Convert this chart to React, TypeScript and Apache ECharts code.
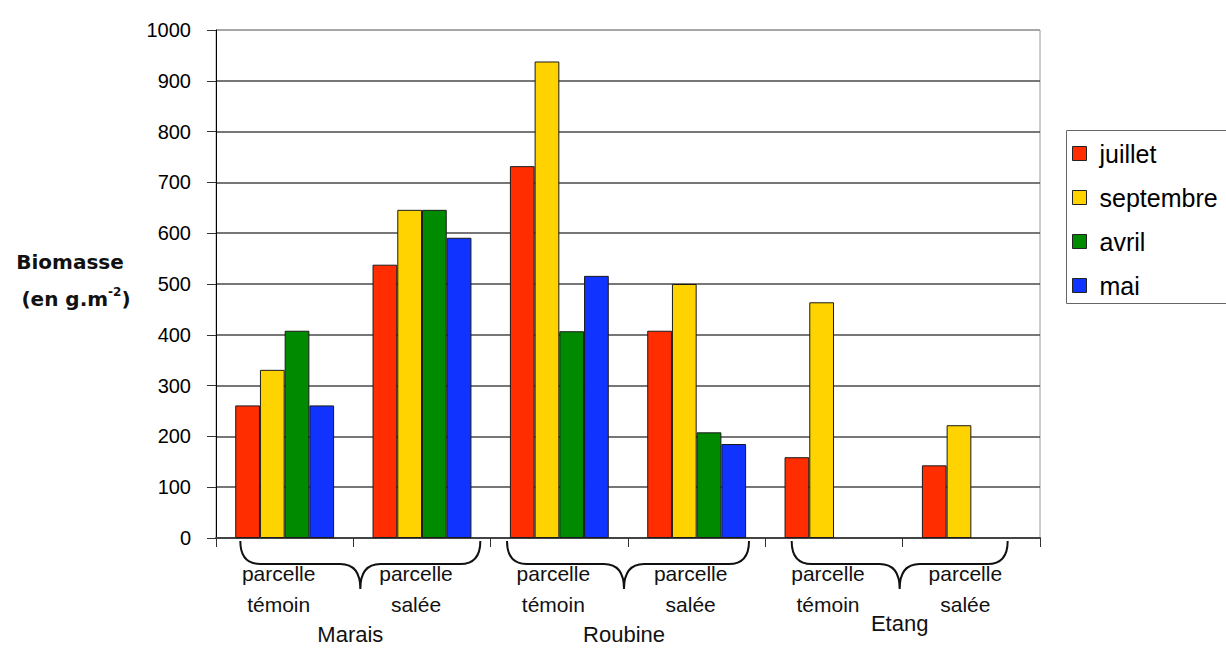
import React, { useEffect, useRef } from 'react';
import * as echarts from 'echarts';

const categories = [
  'parcelle\ntémoin',
  'parcelle\nsalée',
  'parcelle\ntémoin',
  'parcelle\nsalée',
  'parcelle\ntémoin',
  'parcelle\nsalée',
];
const groups = ['Marais', 'Roubine', 'Etang'];
const seriesNames = ['juillet', 'septembre', 'avril', 'mai'];
const juillet = [261, 538, 732, 408, 159, 143];
const septembre = [331, 646, 938, 500, 464, 222];
const avril = [408, 646, 407, 208, null, null];
const mai = [261, 591, 516, 185, null, null];
const yMin = 0;
const yMax = 1000;
const yInterval = 100;

const colors = ['#FF2D00', '#FFD300', '#008A00', '#1133FF'];
const FONT = '"Liberation Sans", Arial, sans-serif';

export default function App() {
  const ref = useRef<HTMLDivElement>(null);

  useEffect(() => {
    if (!ref.current) return;
    const chart = echarts.init(ref.current, undefined, { renderer: 'svg' });
    const values = [juillet, septembre, avril, mai];
    const splitColors: string[] = [];
    for (let v = yMin; v <= yMax; v += yInterval) splitColors.push(v === yMax ? '#9a9a9a' : '#4a4a4a');

    chart.setOption({
      animation: false,
      backgroundColor: '#fff',
      grid: {
        left: 216,
        right: 186,
        top: 30,
        bottom: 132,
        containLabel: false,
        outerBoundsMode: 'none',
        show: true,
        borderColor: '#9a9a9a',
        borderWidth: 1,
        backgroundColor: 'transparent',
      },
      legend: {
        orient: 'vertical',
        left: 1066,
        top: 130,
        padding: [11, 0, 4, 6],
        itemWidth: 14,
        itemHeight: 14,
        itemGap: 19,
        icon: 'rect',
        borderWidth: 0,
        data: seriesNames,
        textStyle: { fontSize: 25, color: '#000', fontFamily: FONT, padding: [0, 0, 0, 8] },
        itemStyle: { borderColor: '#222', borderWidth: 1 },
      },
      xAxis: {
        type: 'category',
        data: categories,
        axisLine: { show: true, lineStyle: { color: '#444', width: 2 } },
        axisTick: { show: true, interval: 0, length: 9, lineStyle: { color: '#333' } },
        axisLabel: {
          interval: 0,
          fontSize: 21,
          lineHeight: 31,
          margin: 20,
          color: '#111',
          fontFamily: FONT,
          padding: [0, 12, 0, 0],
        },
        splitLine: { show: false },
      },
      yAxis: {
        type: 'value',
        min: yMin,
        max: yMax,
        interval: yInterval,
        axisLine: { show: true, lineStyle: { color: '#000', width: 1 } },
        axisTick: { show: true, length: 9, lineStyle: { color: '#333' } },
        axisLabel: {
          fontSize: 20,
          color: '#000',
          fontFamily: FONT,
          margin: 25,
          formatter: (v: number) => String(v),
        },
        splitLine: { show: true, lineStyle: { color: splitColors, width: 1.5 } },
      },
      series: seriesNames.map((name, i) => ({
        name,
        type: 'bar',
        data: values[i],
        barGap: '0%',
        barCategoryGap: '28%',
        itemStyle: { color: colors[i], borderColor: '#1a1a1a', borderWidth: 1 },
      })),
    });

    const px = (i: number) => chart.convertToPixel({ xAxisIndex: 0 }, i) as number;
    const base = chart.convertToPixel({ yAxisIndex: 0 }, 0) as number;
    const braceLeft = [-113, -121, -111];
    const braceRight = [127, 121, 105];
    const tipDx = [7, -4, -3];
    const labelDx = [-3, -4, -3];
    const labelY = [634, 634, 623];

    const graphics: any[] = [];
    graphics.push({
      type: 'rect',
      silent: true,
      z: -1,
      shape: { x: 1066.5, y: 130.5, width: 220, height: 173 },
      style: { fill: '#fff', stroke: '#666', lineWidth: 1 },
    });
    groups.forEach((g, k) => {
      const boundary = (px(2 * k) + px(2 * k + 1)) / 2;
      const x1 = boundary + braceLeft[k];
      const x2 = boundary + braceRight[k];
      const tx = boundary + tipDx[k];
      const y0 = base + 3;
      const ym = base + 26;
      const yt = base + 51;
      const r = 20;
      const d = `M${x1},${y0} Q${x1},${ym} ${x1 + r},${ym} L${tx - r},${ym} Q${tx},${ym} ${tx},${yt} Q${tx},${ym} ${tx + r},${ym} L${x2 - r},${ym} Q${x2},${ym} ${x2},${y0}`;
      const shapeName = 'brace' + k;
      echarts.graphic.registerShape(shapeName, echarts.graphic.extendPath(d, {}) as any);
      graphics.push({
        type: shapeName,
        x: 0,
        y: 0,
        silent: true,
        style: { stroke: '#111', lineWidth: 2, fill: 'none' },
      });
      graphics.push({
        type: 'text',
        x: boundary + labelDx[k],
        y: labelY[k],
        silent: true,
        style: {
          text: g,
          fontSize: 22,
          fontFamily: FONT,
          fill: '#111',
          textAlign: 'center',
          textVerticalAlign: 'middle',
        },
      });
    });

    graphics.push({
      type: 'text',
      x: 70,
      y: 262,
      silent: true,
      style: {
        text: 'Biomasse',
        fontSize: 20,
        fontWeight: 'bold',
        fontFamily: '"DejaVu Sans", sans-serif',
        fill: '#111',
        textAlign: 'center',
        textVerticalAlign: 'middle',
      },
    });
    graphics.push({
      type: 'text',
      x: 76,
      y: 299,
      silent: true,
      style: {
        text: '{a|(en g.m}{s|-2}{a|)}',
        rich: {
          a: { fontSize: 20, fontWeight: 'bold', fontFamily: '"DejaVu Sans", sans-serif', fill: '#111', lineHeight: 26 },
          s: { fontSize: 12, fontWeight: 'bold', fontFamily: '"DejaVu Sans", sans-serif', fill: '#111', verticalAlign: 'top', lineHeight: 26 },
        },
        textAlign: 'center',
        textVerticalAlign: 'middle',
      },
    });

    chart.setOption({ graphic: graphics });

    return () => chart.dispose();
  }, []);

  return <div ref={ref} style={{ position: 'absolute', left: 0, top: 0, width: 1226, height: 670 }} />;
}
